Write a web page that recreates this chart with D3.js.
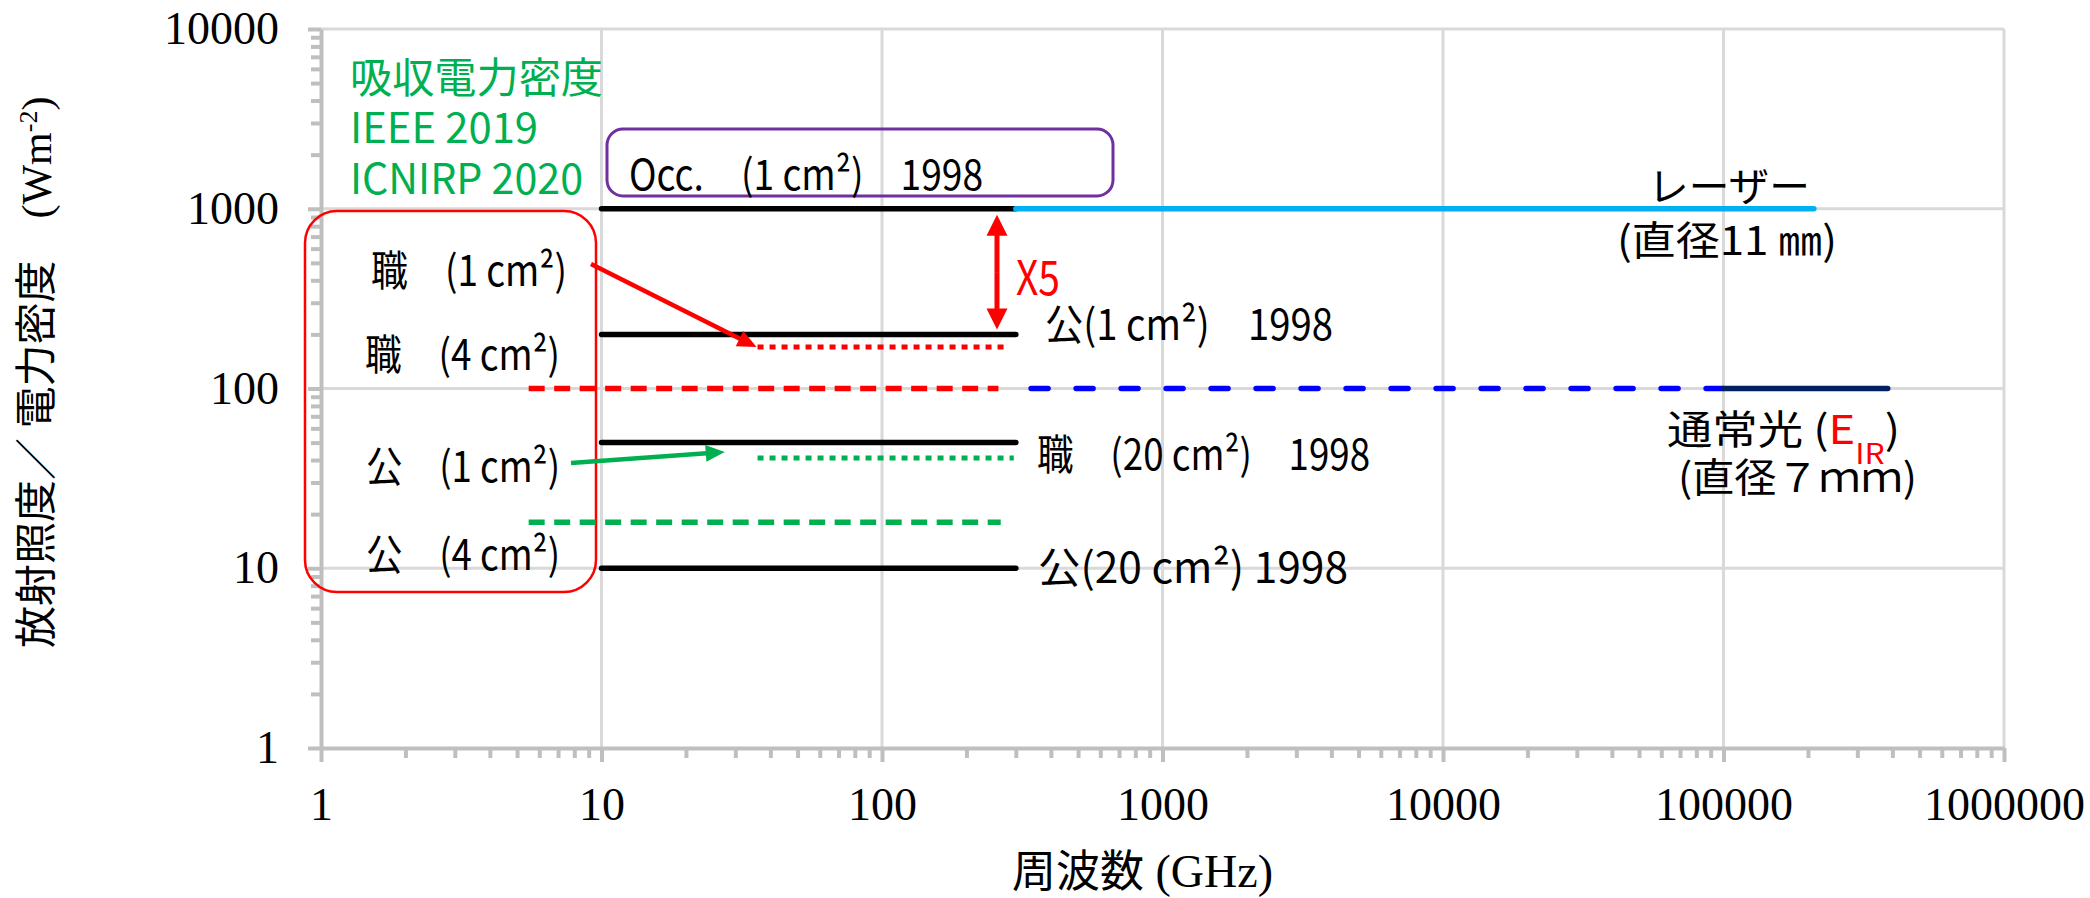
<!DOCTYPE html>
<html>
<head>
<meta charset="utf-8">
<script src="https://cdn.jsdelivr.net/npm/d3@7"></script>
<style>
  body { margin: 0; background: #fff; }
  svg { display: block; }
</style>
</head>
<body>
<svg id="chart" width="2090" height="898"></svg>
<script>
// tick values of both log axes
var freqTicks = [1, 10, 100, 1000, 10000, 100000, 1000000];
var levelTicks = [1, 10, 100, 1000, 10000];

// one entry per horizontal limit line (frequency range in GHz, level in W/m2)
var seriesNames = ["Occ. (1 cm2) 1998", "laser 11 mm", "public (1 cm2) 1998", "occ. (1 cm2) 2019/2020",
  "occ. (4 cm2) 2019/2020", "ordinary light dashed", "ordinary light E_IR", "occ. (20 cm2) 1998",
  "public (1 cm2) 2019/2020", "public (4 cm2) 2019/2020", "public (20 cm2) 1998"];
var freqFrom = [10, 300, 10, 36, 5.5, 340, 100000, 10, 36, 5.5, 10];
var freqTo = [300, 210000, 300, 280, 260, 100000, 385000, 300, 295, 265, 300];
var levelValues = [1000, 1000, 200, 170, 100, 100, 100, 50, 41, 18, 10];

// styles for the lines above, same order
var seriesStyle = [
  {color: "#000000", dash: null, cap: "round"},
  {color: "#00B0F0", dash: null, cap: "round"},
  {color: "#000000", dash: null, cap: "round"},
  {color: "#FF0000", dash: "6,6", cap: "butt"},
  {color: "#FF0000", dash: "16,9.5", cap: "butt"},
  {color: "#0000FF", dash: "17,28", cap: "round"},
  {color: "#002060", dash: null, cap: "round"},
  {color: "#000000", dash: null, cap: "round"},
  {color: "#00B050", dash: "6,6", cap: "butt"},
  {color: "#00B050", dash: "16,9.5", cap: "butt"},
  {color: "#000000", dash: null, cap: "round"}
];

var jpFont = "'Noto Sans CJK JP', 'Noto Sans', sans-serif";
var serifFont = "'Liberation Serif', 'Times New Roman', serif";

var svg = d3.select("#chart");
svg.append("rect").attr("width", 2090).attr("height", 898).attr("fill", "#fff");

var x = d3.scaleLog().domain([1, 1000000]).range([321, 2004]);
var y = d3.scaleLog().domain([1, 10000]).range([748, 29]);

// gridlines
svg.append("g").selectAll("line")
  .data(freqTicks.slice(1))
  .join("line")
  .attr("x1", d => x(d)).attr("x2", d => x(d))
  .attr("y1", y(10000)).attr("y2", y(1))
  .attr("stroke", "#D9D9D9").attr("stroke-width", 3);
svg.append("g").selectAll("line")
  .data(levelTicks.slice(1))
  .join("line")
  .attr("x1", x(1)).attr("x2", x(1000000))
  .attr("y1", d => y(d)).attr("y2", d => y(d))
  .attr("stroke", "#D9D9D9").attr("stroke-width", 3);

// minor ticks 2..9 per decade
var xMinor = [], yMinor = [];
freqTicks.slice(0, -1).forEach(function(d) { for (var k = 2; k < 10; k++) xMinor.push(d * k); });
levelTicks.slice(0, -1).forEach(function(d) { for (var k = 2; k < 10; k++) yMinor.push(d * k); });

function styleAxis(g) {
  g.attr("font-family", serifFont);
  g.selectAll("path.domain").attr("stroke", "#BFBFBF").attr("stroke-width", 4);
  g.selectAll(".tick line").attr("stroke", "#BFBFBF").attr("stroke-width", 4);
  g.selectAll(".tick text").attr("font-family", serifFont).attr("font-size", 46).attr("fill", "#000");
}

var gxMinor = svg.append("g").attr("transform", "translate(0," + y(1) + ")")
  .call(d3.axisBottom(x).tickValues(xMinor).tickSize(10).tickFormat(""));
gxMinor.select("path.domain").remove();
styleAxis(gxMinor);
var gyMinor = svg.append("g").attr("transform", "translate(" + x(1) + ",0)")
  .call(d3.axisLeft(y).tickValues(yMinor).tickSize(10).tickFormat(""));
gyMinor.select("path.domain").remove();
styleAxis(gyMinor);

var gx = svg.append("g").attr("transform", "translate(0," + y(1) + ")")
  .call(d3.axisBottom(x).tickValues(freqTicks).tickSize(14).tickSizeOuter(0).tickPadding(25).tickFormat(d3.format("d")));
styleAxis(gx);
var gy = svg.append("g").attr("transform", "translate(" + x(1) + ",0)")
  .call(d3.axisLeft(y).tickValues(levelTicks).tickSize(13).tickSizeOuter(0).tickPadding(29).tickFormat(d3.format("d")));
styleAxis(gy);

// boxes
svg.append("rect").attr("x", 305).attr("y", 211).attr("width", 291).attr("height", 381)
  .attr("rx", 32).attr("fill", "none").attr("stroke", "#FF0000").attr("stroke-width", 2.5);
svg.append("rect").attr("x", 607).attr("y", 129).attr("width", 506).attr("height", 67)
  .attr("rx", 16).attr("fill", "none").attr("stroke", "#7030A0").attr("stroke-width", 3);

// limit lines
svg.append("g").selectAll("line")
  .data(d3.range(seriesNames.length))
  .join("line")
  .attr("x1", i => x(freqFrom[i])).attr("x2", i => x(freqTo[i]))
  .attr("y1", i => y(levelValues[i])).attr("y2", i => y(levelValues[i]))
  .attr("stroke", i => seriesStyle[i].color)
  .attr("stroke-width", i => seriesStyle[i].dash === "6,6" ? 5 : 5.5)
  .attr("stroke-linecap", i => seriesStyle[i].cap)
  .attr("stroke-dasharray", i => seriesStyle[i].dash);

// arrows
function arrow(x1, y1, x2, y2, color, w, headLen, headW) {
  var dx = x2 - x1, dy = y2 - y1, L = Math.sqrt(dx * dx + dy * dy);
  var ux = dx / L, uy = dy / L;
  var bx = x2 - ux * headLen, by = y2 - uy * headLen;
  svg.append("line").attr("x1", x1).attr("y1", y1).attr("x2", bx + ux).attr("y2", by + uy)
    .attr("stroke", color).attr("stroke-width", w);
  svg.append("polygon")
    .attr("points", [[x2, y2], [bx - uy * headW / 2, by + ux * headW / 2], [bx + uy * headW / 2, by - ux * headW / 2]].join(" "))
    .attr("fill", color);
}
// x5 double arrow between the 1000 and 200 lines
var ax = x(257), aTop = y(1000) + 6, aBot = y(200) - 5, aMid = (aTop + aBot) / 2;
arrow(ax, aMid, ax, aTop, "#FF0000", 5, 21, 21);
arrow(ax, aMid, ax, aBot, "#FF0000", 5, 21, 21);
// pointers from the box labels
arrow(591, 264, x(36) - 1, y(170), "#FF0000", 4.5, 19, 17);
arrow(571, 463, x(27.5), 452, "#00B050", 4.5, 19, 17);

// text helper
function label(parts, px, py, size, len, anchor) {
  var t = svg.append("text").attr("x", px).attr("y", py)
    .attr("font-family", jpFont).attr("font-size", size)
    .attr("text-anchor", anchor || "start")
    .style("white-space", "pre");
  if (typeof parts === "string") {
    t.text(parts);
  } else {
    parts.forEach(function(p) {
      var s = t.append("tspan").text(p.t).attr("fill", p.c || "#000");
      if (p.f) s.attr("font-family", p.f);
      if (p.s) s.attr("font-size", p.s);
      if (p.sh) s.attr("baseline-shift", p.sh);
    });
  }
  if (len) t.attr("textLength", len).attr("lengthAdjust", "spacingAndGlyphs");
  return t;
}

// green heading
label("吸収電力密度", 350, 93, 42, 253).attr("fill", "#00B050");
label("IEEE 2019", 350, 143, 42, 188).attr("fill", "#00B050");
label("ICNIRP 2020", 350, 194, 42, 233).attr("fill", "#00B050");

// box labels
label("職　(1 cm²)", 371, 286, 42, 196);
label("職　(4 cm²)", 365, 370, 42, 195);
label("公　(1 cm²)", 366, 482, 42, 194);
label("公　(4 cm²)", 366, 570, 42, 194);

// 1998 labels
label("Occ.　(1 cm²)　1998", 629, 190, 42, 354);
label("公(1 cm²)　1998", 1045, 340, 42, 288);
label("職　(20 cm²)　1998", 1037, 470, 42, 333);
label("公(20 cm²) 1998", 1038, 583, 42, 310);

// x5
label("X5", 1016, 295, 48, 44).attr("fill", "#FF0000");

// light sources
label("レーザー", 1648, 201, 40, 162);
label("(直径11 ㎜)", 1617, 255, 40, 220);
label([{t: "通常光 ("}, {t: "E", c: "#FF0000"}, {t: "IR", c: "#FF0000", s: 28, sh: "sub"}, {t: ")"}], 1667, 444, 40, 233);
label("(直径７ｍｍ)", 1678, 492, 40, 239);

// axis titles
label([{t: "周波数"}, {t: " (GHz)", f: serifFont, s: 46}], 1012, 887, 44);
var yt = label([{t: "放射照度／ 電力密度　"}, {t: "(Wm", f: serifFont}, {t: "-2", f: serifFont, s: 26, sh: "super"}, {t: ")", f: serifFont}], 0, 0, 42);
yt.attr("transform", "translate(51,648) rotate(-90)");
</script>
</body>
</html>
